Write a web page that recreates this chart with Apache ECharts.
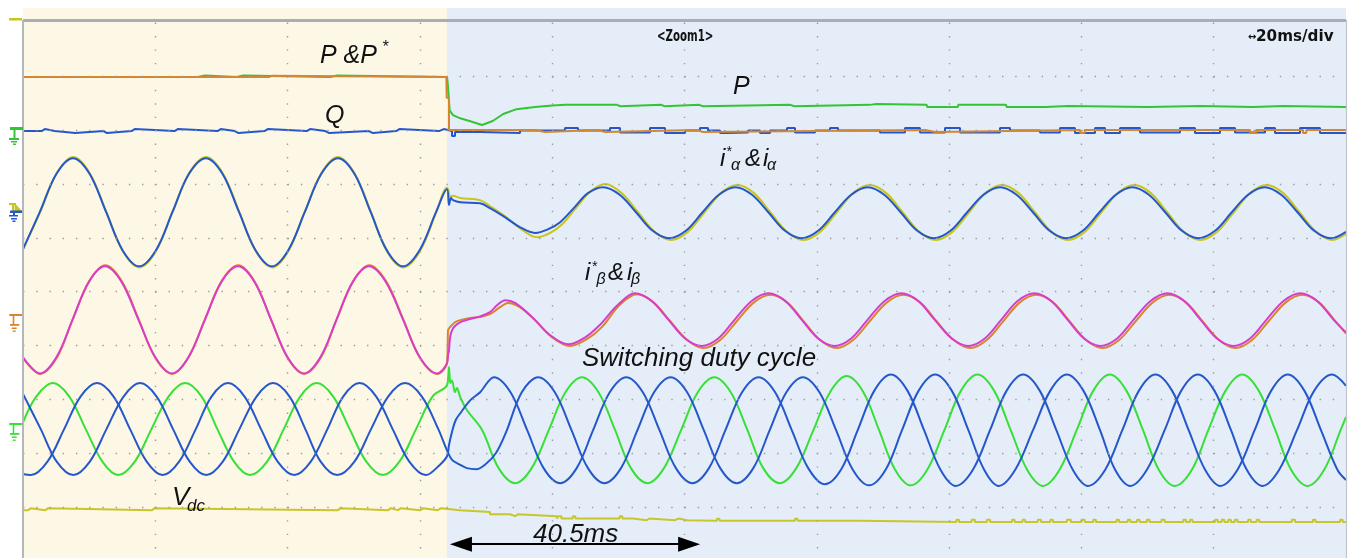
<!DOCTYPE html>
<html><head><meta charset="utf-8">
<script src="https://cdn.jsdelivr.net/npm/echarts@6/dist/echarts.min.js"></script>
<style>html,body{margin:0;padding:0;background:#fff}#c{width:1352px;height:558px}</style>
</head><body><div id="c"></div><script>
// time in ms (20 ms/div), vertical position in divisions from the top graticule line
const gridTimes = [20,40,60,80,100,120,140,160,180];
const gridDivs = [1,2,3,4,5,6,7,8,9];
const switchTime = 64.1;
const spanArrow = [66.2, 100.7, 9.693];

const pRef = [[0,1.013],[37.2,0.99],[37.6,1.013],[64.0,1.013],[64.05,1.40],[64.4,1.998],[77.4,2.035],[78.9,1.998],[86.9,2.035],[88.0,1.998],[101.9,2.035],[102.8,1.998],[136.4,2.035],[137.9,1.998],[159.8,2.054],[160.5,1.998],[185.5,2.054],[186.4,1.998],[193.5,2.054],[194.0,1.998],[200,1.998]];
const pMeas = [[0,1.013],[26.4,1.013],[26.45,0.985],[27.5,0.985],[27.55,1.013],[32.3,1.013],[32.35,0.985],[33.3,0.985],[33.35,1.013],[46.35,1.013],[46.4,0.985],[47.5,0.985],[47.55,1.013],[64.1,1.013],[64.2,1.12],[64.5,1.63],[65.0,1.72],[66.1,1.78],[67.5,1.83],[69.4,1.905],[71.0,1.83],[72.6,1.70],[74.6,1.61],[77.4,1.57],[80.0,1.54],[82.0,1.53],[89.8,1.53],[89.9,1.555],[90.3,1.555],[90.4,1.53],[96.5,1.53],[96.6,1.555],[97.0,1.555],[97.1,1.53],[102.2,1.53],[102.3,1.555],[102.8,1.555],[102.9,1.53],[116.0,1.53],[116.1,1.555],[116.6,1.555],[116.7,1.53],[128.0,1.53],[128.1,1.515],[129.0,1.515],[129.1,1.53],[136.6,1.53],[136.7,1.57],[141.3,1.57],[141.4,1.53],[148.6,1.53],[148.7,1.57],[154.5,1.57],[154.6,1.55],[158.0,1.55],[158.1,1.57],[170.0,1.57],[170.1,1.55],[178.0,1.55],[178.1,1.57],[186.0,1.57],[186.1,1.55],[190.5,1.55],[190.6,1.57],[200,1.57]];
const qMeas = [[0,2.017],[2.8,1.98],[3.3,2.017],[4.8,2.054],[7.9,2.017],[12.2,2.054],[12.7,2.017],[16.4,1.98],[16.9,2.017],[22.9,1.98],[23.4,2.017],[29.4,1.98],[29.9,2.017],[32.0,2.054],[32.6,2.017],[36.5,1.98],[37.0,2.017],[42.9,1.98],[43.4,2.017],[45.7,2.054],[46.3,2.017],[52.3,2.054],[52.9,2.017],[56.4,1.98],[56.9,2.017],[62.9,1.98],[63.6,2.017],[64.85,2.109],[65.31,2.035],[69.09,2.054],[75.13,2.007],[81.93,1.961],[83.90,2.007],[88.74,1.961],[90.25,2.045],[94.78,1.961],[97.05,2.054],[100.08,2.007],[102.34,1.961],[103.55,2.007],[105.37,2.054],[106.42,2.045],[109.60,2.007],[111.41,2.054],[112.93,2.007],[115.50,1.961],[116.70,2.045],[119.73,2.007],[122.00,1.961],[123.21,2.007],[129.55,2.045],[133.33,1.961],[135.60,2.045],[139.38,1.961],[141.65,2.045],[147.69,1.961],[149.21,2.007],[153.74,2.045],[156.77,1.961],[159.03,2.054],[162.06,1.961],[163.57,2.054],[165.84,1.961],[168.86,2.045],[174.91,1.961],[177.17,2.054],[180.95,1.961],[183.22,2.045],[187.76,1.961],[189.27,2.054],[193.05,1.961],[196.07,2.054],[200,2.054]];

const iAlphaRef = [[0,4.22],[2.6,3.52],[5.1,2.80],[7.6,2.50],[10.1,2.80],[12.6,3.52],[15.1,4.25],[17.6,4.55],[20.1,4.25],[22.6,3.52],[25.1,2.80],[27.7,2.50],[30.2,2.80],[32.7,3.52],[35.2,4.25],[37.7,4.55],[40.1,4.25],[42.6,3.52],[45.1,2.80],[47.6,2.50],[50.1,2.80],[52.6,3.52],[55.0,4.25],[57.5,4.55],[60.0,4.25],[62.5,3.52],[64.1,3.07],[64.3,3.11],[64.55,3.24],[65.0,3.22],[66.1,3.26],[69.1,3.30],[70.6,3.41],[72.9,3.60],[75.1,3.82],[77.7,3.99],[79.7,3.91],[81.5,3.75],[83.7,3.43],[85.7,3.15],[88.0,3.00],[90.5,3.17],[93.0,3.53],[95.5,3.89],[98.0,4.04],[100.5,3.89],[103.0,3.53],[105.5,3.17],[108.0,3.02],[110.5,3.17],[113.0,3.53],[115.5,3.89],[118.0,4.04],[120.5,3.89],[123.0,3.53],[125.5,3.17],[128.0,3.02],[130.5,3.17],[133.0,3.53],[135.5,3.89],[138.0,4.04],[140.5,3.89],[143.0,3.53],[145.5,3.17],[148.0,3.02],[150.5,3.17],[153.0,3.53],[155.5,3.89],[158.0,4.04],[160.5,3.89],[163.0,3.53],[165.5,3.17],[168.0,3.02],[170.5,3.17],[173.0,3.53],[175.5,3.89],[178.0,4.04],[180.5,3.89],[183.0,3.53],[185.5,3.17],[188.0,3.02],[190.5,3.17],[193.0,3.53],[195.5,3.89],[198.0,4.04],[200,3.93]];
const iAlpha = [[0,4.21],[2.55,3.52],[5.06,2.81],[7.56,2.52],[10.06,2.81],[12.56,3.52],[15.05,4.23],[17.54,4.53],[20.1,4.23],[22.6,3.52],[25.1,2.81],[27.66,2.52],[30.15,2.81],[32.65,3.52],[35.15,4.23],[37.64,4.53],[40.1,4.23],[42.6,3.52],[45.1,2.81],[47.62,2.52],[50.1,2.81],[52.55,3.52],[55.0,4.23],[57.45,4.53],[59.95,4.23],[62.45,3.52],[64.1,3.10],[64.4,3.39],[64.7,3.26],[65.0,3.30],[66.1,3.34],[69.1,3.36],[70.6,3.45],[72.9,3.62],[75.1,3.80],[77.4,3.91],[79.4,3.84],[81.2,3.71],[83.4,3.43],[85.4,3.17],[87.7,3.06],[90.2,3.20],[92.7,3.53],[95.2,3.87],[97.7,4.01],[100.2,3.87],[102.7,3.53],[105.2,3.20],[107.7,3.06],[110.2,3.20],[112.7,3.53],[115.2,3.87],[117.7,4.01],[120.2,3.87],[122.7,3.53],[125.2,3.20],[127.7,3.06],[130.2,3.20],[132.7,3.53],[135.2,3.87],[137.7,4.01],[140.2,3.87],[142.7,3.53],[145.2,3.20],[147.7,3.06],[150.2,3.20],[152.7,3.53],[155.2,3.87],[157.7,4.01],[160.2,3.87],[162.7,3.53],[165.2,3.20],[167.7,3.06],[170.2,3.20],[172.7,3.53],[175.2,3.87],[177.7,4.01],[180.2,3.87],[182.7,3.53],[185.2,3.20],[187.7,3.06],[190.2,3.20],[192.7,3.53],[195.2,3.87],[197.7,4.01],[200,3.89]];

const iBetaRef = [[0,6.23],[2.6,6.53],[5.1,6.23],[7.5,5.52],[10.0,4.81],[12.45,4.51],[14.95,4.81],[17.5,5.52],[20.0,6.23],[22.55,6.53],[25.0,6.23],[27.5,5.52],[30.0,4.81],[32.55,4.51],[35.0,4.81],[37.5,5.52],[40.0,6.23],[42.5,6.53],[45.0,6.23],[47.4,5.52],[49.9,4.81],[52.35,4.51],[54.9,4.81],[57.5,5.52],[60.0,6.23],[62.6,6.53],[64.1,6.33],[64.2,6.00],[64.25,5.72],[64.55,5.66],[65.3,5.57],[66.1,5.53],[67.6,5.49],[69.1,5.47],[70.6,5.42],[72.1,5.29],[73.3,5.21],[75.1,5.29],[77.4,5.53],[80.0,5.85],[82.7,6.01],[85.3,5.88],[87.5,5.66],[90.2,5.25],[92.8,5.05],[95.3,5.20],[97.85,5.55],[100.4,5.90],[102.9,6.05],[105.4,5.90],[107.9,5.55],[110.5,5.20],[113.0,5.06],[115.5,5.20],[118.0,5.55],[120.5,5.90],[123.0,6.05],[125.5,5.90],[128.0,5.55],[130.6,5.20],[133.1,5.06],[135.6,5.20],[138.1,5.55],[140.7,5.90],[143.2,6.05],[145.7,5.90],[148.2,5.55],[150.7,5.20],[153.2,5.06],[155.7,5.20],[158.2,5.55],[160.7,5.90],[163.2,6.05],[165.7,5.90],[168.2,5.55],[170.8,5.20],[173.3,5.06],[175.8,5.20],[178.3,5.55],[180.8,5.90],[183.3,6.05],[185.8,5.90],[188.3,5.55],[190.9,5.20],[193.4,5.06],[195.9,5.20],[198.4,5.55],[200,5.78]];
const iBeta = [[0,6.22],[2.57,6.52],[5.05,6.22],[7.5,5.52],[9.95,4.82],[12.4,4.53],[14.9,4.82],[17.45,5.52],[20.0,6.22],[22.52,6.52],[25.0,6.22],[27.5,5.52],[30.0,4.82],[32.5,4.53],[35.0,4.82],[37.5,5.52],[40.0,6.22],[42.48,6.52],[44.95,6.22],[47.4,5.52],[49.85,4.82],[52.31,4.53],[54.85,4.82],[57.45,5.52],[60.0,6.22],[62.58,6.52],[64.1,6.33],[64.25,6.18],[64.4,6.09],[64.55,5.86],[64.85,5.72],[65.3,5.64],[66.06,5.57],[67.6,5.51],[69.1,5.46],[70.6,5.38],[71.7,5.25],[72.9,5.16],[74.4,5.21],[77.1,5.49],[79.7,5.81],[82.4,5.98],[85.0,5.85],[87.2,5.62],[89.9,5.25],[92.5,5.03],[95.0,5.17],[97.55,5.52],[100.1,5.87],[102.6,6.01],[105.1,5.87],[107.6,5.52],[110.2,5.17],[112.7,5.03],[115.2,5.17],[117.7,5.52],[120.2,5.87],[122.7,6.01],[125.2,5.87],[127.7,5.52],[130.3,5.17],[132.8,5.03],[135.3,5.17],[137.8,5.52],[140.4,5.87],[142.9,6.01],[145.4,5.87],[147.9,5.52],[150.4,5.17],[152.9,5.03],[155.4,5.17],[157.9,5.52],[160.4,5.87],[162.9,6.01],[165.4,5.87],[167.9,5.52],[170.5,5.17],[173.0,5.03],[175.5,5.17],[178.0,5.52],[180.5,5.87],[183.0,6.01],[185.5,5.87],[188.0,5.52],[190.6,5.17],[193.1,5.03],[195.6,5.17],[198.1,5.52],[200,5.76]];

const dutyA = [[0,7.43],[2.0,6.95],[4.5,6.70],[7.0,6.95],[9.5,7.56],[12.0,8.16],[14.4,8.41],[16.9,8.16],[19.4,7.56],[22.0,6.95],[24.5,6.70],[27.0,6.95],[29.4,7.56],[31.9,8.16],[34.3,8.41],[36.9,8.16],[39.4,7.56],[41.9,6.95],[44.4,6.70],[46.9,6.95],[49.4,7.56],[51.9,8.16],[54.4,8.41],[56.9,8.16],[59.4,7.56],[61.9,6.95],[64.1,6.74],[64.3,6.55],[64.4,6.40],[64.6,6.70],[64.85,6.65],[65.3,6.87],[65.6,6.79],[66.1,6.96],[67.1,7.20],[69.4,7.57],[71.9,8.28],[74.4,8.56],[76.9,8.28],[79.5,7.57],[82.0,6.87],[84.5,6.59],[87.0,6.87],[89.5,7.57],[91.9,8.28],[94.4,8.56],[96.9,8.28],[99.5,7.57],[102.0,6.87],[104.5,6.59],[107.0,6.87],[109.5,7.57],[111.9,8.28],[114.4,8.56],[116.9,8.28],[119.5,7.57],[122.0,6.87],[124.5,6.57],[127.0,6.86],[129.4,7.57],[131.8,8.30],[134.2,8.60],[136.7,8.31],[139.3,7.57],[141.8,6.84],[144.3,6.54],[146.8,6.84],[149.3,7.57],[151.8,8.31],[154.2,8.61],[156.7,8.31],[159.3,7.57],[161.8,6.84],[164.3,6.54],[166.8,6.84],[169.3,7.57],[171.7,8.31],[174.1,8.61],[176.7,8.31],[179.2,7.57],[181.8,6.84],[184.3,6.54],[186.8,6.84],[189.3,7.57],[191.7,8.31],[194.2,8.61],[196.7,8.31],[199.2,7.57],[200,7.33]];
const dutyB = [[0,8.39],[1.2,8.41],[3.7,8.16],[6.2,7.56],[8.7,6.95],[11.2,6.70],[13.7,6.95],[16.2,7.56],[18.7,8.16],[21.1,8.41],[23.6,8.16],[26.1,7.56],[28.5,6.95],[31.0,6.70],[33.5,6.95],[36.0,7.56],[38.5,8.16],[41.0,8.41],[43.5,8.16],[46.0,7.56],[48.4,6.95],[50.9,6.70],[53.4,6.95],[55.9,7.56],[58.4,8.16],[60.9,8.41],[63.0,8.22],[64.1,8.06],[64.4,7.85],[64.85,7.61],[65.4,7.39],[66.1,7.26],[67.6,7.02],[69.1,6.87],[71.2,6.59],[73.7,6.87],[76.2,7.57],[78.7,8.28],[81.2,8.56],[83.7,8.28],[86.2,7.57],[88.7,6.87],[91.2,6.59],[93.7,6.87],[96.2,7.57],[98.7,8.28],[101.2,8.56],[103.7,8.28],[106.2,7.57],[108.7,6.87],[111.2,6.59],[113.7,6.87],[116.2,7.57],[118.7,8.28],[121.2,8.58],[123.7,8.30],[126.2,7.57],[128.7,6.84],[131.2,6.54],[133.7,6.84],[136.2,7.57],[138.7,8.31],[141.0,8.61],[143.6,8.31],[146.2,7.57],[148.7,6.84],[151.2,6.54],[153.7,6.84],[156.2,7.57],[158.7,8.31],[161.0,8.61],[163.6,8.31],[166.2,7.57],[168.7,6.84],[171.2,6.54],[173.7,6.84],[176.2,7.57],[178.7,8.31],[181.0,8.61],[183.6,8.31],[186.2,7.57],[188.7,6.84],[191.2,6.54],[193.7,6.84],[196.2,7.57],[198.7,8.31],[200,8.50]];
const dutyC = [[0,6.90],[2.7,7.56],[5.1,8.16],[7.6,8.41],[10.1,8.16],[12.6,7.56],[15.2,6.95],[17.7,6.70],[20.2,6.95],[22.7,7.56],[25.2,8.16],[27.7,8.41],[30.2,8.16],[32.7,7.56],[35.3,6.95],[37.8,6.70],[40.3,6.95],[42.7,7.56],[45.0,8.16],[47.5,8.41],[50.1,8.16],[52.6,7.56],[55.2,6.95],[57.75,6.70],[60.3,6.95],[62.8,7.56],[64.1,7.95],[64.9,8.13],[66.1,8.22],[67.1,8.28],[68.5,8.30],[70.0,8.20],[71.5,8.00],[73.0,7.62],[75.4,6.87],[77.9,6.59],[80.4,6.87],[82.9,7.57],[85.4,8.28],[87.9,8.56],[90.4,8.28],[92.9,7.57],[95.4,6.87],[97.9,6.59],[100.4,6.87],[102.9,7.57],[105.4,8.28],[107.9,8.56],[110.4,8.28],[112.9,7.57],[115.4,6.87],[117.9,6.59],[120.4,6.87],[122.9,7.57],[125.4,8.30],[127.9,8.60],[130.4,8.31],[132.9,7.57],[135.4,6.84],[137.9,6.54],[140.4,6.84],[142.9,7.57],[145.3,8.31],[147.5,8.61],[150.0,8.31],[152.7,7.57],[155.3,6.84],[157.8,6.54],[160.3,6.84],[162.8,7.57],[165.1,8.31],[167.4,8.61],[169.9,8.31],[172.6,7.57],[175.1,6.84],[177.6,6.54],[180.1,6.84],[182.6,7.57],[185.0,8.31],[187.4,8.61],[189.9,8.31],[192.6,7.57],[195.2,6.84],[197.9,6.54],[200,6.75]];

const vdc = [[0,9.061],[0.8,9.024],[1.2,9.061],[3.4,9.024],[3.8,9.061],[19.5,9.024],[19.9,9.061],[47.6,9.024],[48.0,9.061],[55.2,9.024],[55.6,9.061],[56.7,9.024],[57.1,9.061],[60.1,9.024],[60.5,9.061],[62.7,9.024],[63.2,9.061],[66.06,9.093],[70.6,9.136],[73.62,9.173],[74.4,9.136],[74.8,9.173],[80.73,9.216],[80.9,9.173],[81.4,9.216],[83.1,9.173],[83.5,9.216],[90.2,9.173],[90.6,9.216],[92.21,9.247],[94.3,9.216],[94.7,9.247],[98.6,9.216],[99.1,9.247],[100.38,9.26],[104.9,9.22],[105.3,9.26],[116.7,9.22],[117.1,9.26],[126.53,9.279],[141.1,9.24],[141.5,9.279],[143.4,9.24],[143.9,9.279],[145.7,9.24],[146.2,9.279],[149.5,9.24],[149.9,9.279],[151.1,9.24],[151.5,9.279],[153.4,9.24],[153.9,9.279],[155.3,9.24],[155.7,9.279],[157.8,9.24],[158.4,9.279],[160.0,9.24],[160.5,9.279],[161.8,9.24],[162.2,9.279],[165.3,9.24],[165.7,9.279],[167.0,9.24],[167.4,9.279],[168.4,9.24],[168.8,9.279],[169.9,9.24],[170.3,9.279],[172.1,9.24],[172.6,9.279],[175.4,9.24],[175.8,9.279],[176.4,9.24],[176.8,9.279],[180.2,9.24],[180.6,9.279],[181.2,9.24],[181.6,9.279],[182.2,9.24],[182.6,9.279],[183.2,9.24],[183.6,9.279],[185.2,9.24],[185.6,9.279],[186.5,9.24],[186.9,9.279],[191.8,9.24],[192.3,9.279],[195.0,9.24],[195.4,9.279],[199.1,9.24],[199.5,9.279],[200,9.279]];

const txt = {pp:'P &P', star:'*', q:'Q', p:'P', i:'i', amp:'&', alpha:'α', beta:'β', duty:'Switching duty cycle', v:'V', dc:'dc', span:'40.5ms', zoom:'<Zoom1>', arrow:'↔', scale:'20ms/div'};

const C = {blue:'#2457cc', yellow:'#c9c51c', magenta:'#d93ccc', orange:'#d8862c', greenP:'#33c533', greenD:'#36e036', vdc:'#c8c62a', bgL:'#fdf7e6', bgR:'#e5eef8', dot:'#9c9c9c'};

const chart = echarts.init(document.getElementById('c'), null, {renderer:'canvas'});
const yTop = -0.27, yBot = 9.95, frameY = -0.047;

const gridLines = [];
gridTimes.forEach(t => gridLines.push([{coord:[t,0], lineStyle:{color:C.dot, width:1.4, type:[1.4,12.05]}},{coord:[t,yBot]}]));
gridDivs.forEach(d => gridLines.push([{coord:[0,d], lineStyle:{color:C.dot, width:1.4, type:[1.4,11.83]}},{coord:[200,d]}]));
gridLines.push([{coord:[0,frameY], lineStyle:{color:'#a9aeb5', width:3, type:'solid'}},{coord:[200,frameY]}]);
gridLines.push([{coord:[0,frameY], lineStyle:{color:'#b3b7be', width:2, type:'solid'}},{coord:[0,yBot]}]);
gridLines.push([{coord:[200,frameY], lineStyle:{color:'#c2c6cc', width:1.2, type:'solid'}},{coord:[200,yBot]}]);

function trace(name, data, color, extra) {
  return Object.assign({name, type:'line', data, symbol:'none', showSymbol:false, smooth:0.35,
    lineStyle:{color, width:2}, silent:true, z:3}, extra || {});
}

const series = [
  {type:'line', data:[], z:0, silent:true, markArea:{silent:true, label:{show:false}, data:[
    [{coord:[0,yTop], itemStyle:{color:C.bgL}},{coord:[switchTime,yBot]}],
    [{coord:[switchTime,yTop], itemStyle:{color:C.bgR}},{coord:[200,yBot]}]
  ]}},
  {type:'line', data:[], z:1, silent:true, markLine:{silent:true, symbol:['none','none'], label:{show:false}, animation:false, data:gridLines}},
  trace('P', pMeas, C.greenP, {smooth:false}),
  trace('Q', qMeas, C.blue, {smooth:false, step:'end'}),
  trace('P*', pRef, C.orange, {smooth:false, step:'end'}),
  trace('i*α', iAlphaRef, C.yellow),
  trace('iα', iAlpha, C.blue),
  trace('i*β', iBetaRef, C.orange),
  trace('iβ', iBeta, C.magenta),
  trace('da', dutyA, C.greenD),
  trace('db', dutyB, C.blue),
  trace('dc', dutyC, C.blue),
  trace('Vdc', vdc, C.vdc, {smooth:false, step:'end'}),
  {type:'line', data:[], z:6, silent:true, markLine:{silent:true, symbol:['triangle','triangle'], symbolSize:[15,22], label:{show:false}, animation:false,
    lineStyle:{color:'#000', width:2, type:'solid'},
    data:[[{coord:[spanArrow[0],spanArrow[2]]},{coord:[spanArrow[1],spanArrow[2]]}]]}}
];

const IT = '"Liberation Sans", Arial, sans-serif';
function label(text, x, y, size, extra) {
  return Object.assign({type:'text', x, y, z:100, silent:true, style:{text, font:`italic ${size}px ${IT}`, fill:'#111', textAlign:'left', textVerticalAlign:'middle', verticalAlign:'middle'}}, extra || {});
}
function rect(x, y, w, h, fill) { return {type:'rect', silent:true, z:100, shape:{x, y, width:w, height:h}, style:{fill}}; }

const graphic = [
  rect(9,18,13,2.5,C.yellow),
  // P/Q ground
  rect(10,127,13,3,C.greenP), rect(13.5,130,2,8,C.greenP), rect(9,138,10,2,C.greenP), rect(11,141,6,1.5,C.greenP), rect(13,143.5,3,1.5,C.greenP),
  // i alpha ground
  rect(9,203,7,2,C.yellow), rect(12,205,2,6,C.yellow),
  {type:'polygon', silent:true, z:100, shape:{points:[[14.5,203],[14.5,211],[22,211]]}, style:{fill:C.yellow}},
  rect(10,210.5,12,2.5,C.blue), rect(13,213,2,2,C.blue), rect(9,215,9,1.5,C.blue), rect(11,218,6,1.5,C.blue), rect(12.5,220.5,3,1.5,C.blue),
  // i beta ground
  rect(9.3,314,12.7,2,C.orange), rect(12.7,316,1.6,8,C.orange), rect(10,324,9.3,1.8,C.orange), rect(11.7,327.5,5,1.5,C.orange), rect(12.7,330.5,3,1.4,C.orange),
  // duty ground
  rect(9.3,423,12.7,2,C.greenD), rect(12.7,425,1.6,8,C.greenD), rect(10,433,9.3,1.8,C.greenD), rect(11.7,436.5,5,1.5,C.greenD), rect(12.7,439.5,3,1.4,C.greenD),
  // labels
  label(txt.pp, 320, 56.5, 25), label(txt.star, 382, 47.5, 16),
  label(txt.q, 325, 116, 25),
  label(txt.p, 733, 87, 25),
  label(txt.i, 720, 159.5, 24), label(txt.star, 726, 152, 14), label(txt.alpha, 731, 165.5, 16),
  label(txt.amp, 745, 159.5, 24), label(txt.i, 763, 159.5, 24), label(txt.alpha, 767, 165.5, 16),
  label(txt.i, 585, 273, 24), label(txt.star, 591.5, 267.5, 14), label(txt.beta, 596.5, 280, 16),
  label(txt.amp, 608, 273, 24), label(txt.i, 627, 273, 24), label(txt.beta, 631, 280, 16),
  label(txt.duty, 582, 359, 26),
  label(txt.v, 172, 497.5, 26), label(txt.dc, 187, 506, 17),
  label(txt.span, 533, 534.5, 26),
  {type:'text', x:657, y:36.5, scaleX:0.64, z:100, silent:true, style:{text:txt.zoom, font:'bold 16px "DejaVu Sans", sans-serif', fill:'#111', textAlign:'left', textVerticalAlign:'middle', verticalAlign:'middle'}},
  {type:'text', x:1248, y:37.5, z:100, silent:true, style:{text:txt.arrow, font:'bold 10px "DejaVu Sans", sans-serif', fill:'#111', textAlign:'left', textVerticalAlign:'middle', verticalAlign:'middle'}},
  {type:'text', x:1256, y:36.5, scaleX:0.95, z:100, silent:true, style:{text:txt.scale, font:'bold 16px "DejaVu Sans", sans-serif', fill:'#111', textAlign:'left', textVerticalAlign:'middle', verticalAlign:'middle'}}
];

chart.setOption({
  animation:false,
  backgroundColor:'#ffffff',
  grid:{left:23, right:6, top:8, bottom:0, containLabel:false},
  xAxis:{type:'value', min:0, max:200, show:false, splitLine:{show:false}},
  yAxis:{type:'value', inverse:true, min:yTop, max:yBot, show:false, splitLine:{show:false}},
  series,
  graphic
});
</script></body></html>
